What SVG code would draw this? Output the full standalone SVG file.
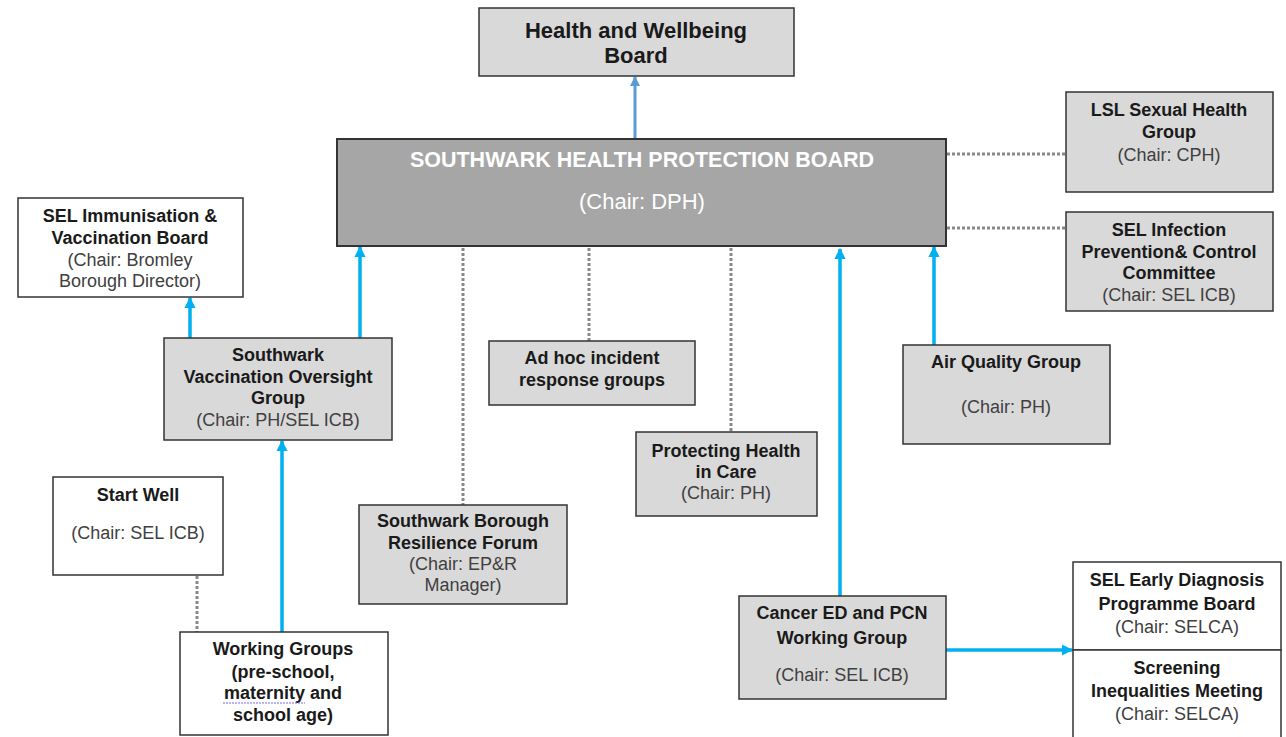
<svg xmlns="http://www.w3.org/2000/svg" width="1286" height="737" viewBox="0 0 1286 737">
<style>
.box{stroke:#333;stroke-width:1.5}
.w{fill:#fff}
.g{fill:#d9d9d9}
.b{font-family:"Liberation Sans",Arial,sans-serif;font-size:18px;font-weight:bold;fill:#1a1a1a;text-anchor:middle}
.n{font-family:"Liberation Sans",Arial,sans-serif;font-size:18px;fill:#404040;text-anchor:middle}
.blue{stroke:#00b0f0;stroke-width:3.5;fill:none}
.dot{stroke:#888;stroke-width:3;stroke-dasharray:3 2;fill:none}
</style>
<defs>
<marker id="ab" viewBox="0 0 10 10" refX="9" refY="5" markerWidth="3.2" markerHeight="3.2" orient="auto" markerUnits="strokeWidth"><path d="M0,0 L10,5 L0,10 z" fill="#00b0f0"/></marker>
<marker id="ab2" viewBox="0 0 10 10" refX="9" refY="5" markerWidth="3.5" markerHeight="3.5" orient="auto" markerUnits="strokeWidth"><path d="M0,0 L10,5 L0,10 z" fill="#5b9bd5"/></marker>
</defs>
<rect width="1286" height="737" fill="#fff"/>

<g id="connectors">
<line x1="635" y1="138" x2="635" y2="77" stroke="#5b9bd5" stroke-width="3" marker-end="url(#ab2)"/>
<line class="dot" x1="947" y1="154" x2="1066" y2="154"/>
<line class="dot" x1="947" y1="228" x2="1066" y2="228"/>
<line class="blue" x1="190" y1="338" x2="190" y2="298" marker-end="url(#ab)"/>
<line class="blue" x1="360" y1="338" x2="360" y2="247" marker-end="url(#ab)"/>
<line class="blue" x1="282" y1="632" x2="282" y2="441" marker-end="url(#ab)"/>
<line class="dot" x1="197" y1="576" x2="197" y2="632"/>
<line class="dot" x1="463" y1="248" x2="463" y2="505"/>
<line class="dot" x1="589" y1="248" x2="589" y2="341"/>
<line class="dot" x1="731" y1="248" x2="731" y2="432"/>
<line class="blue" x1="840" y1="596" x2="840" y2="249" marker-end="url(#ab)"/>
<line class="blue" x1="934" y1="345" x2="934" y2="247" marker-end="url(#ab)"/>
<line class="blue" x1="946" y1="650" x2="1072" y2="650" marker-end="url(#ab)"/>
</g>

<g id="hwb">
<rect class="box g" x="479" y="8" width="315" height="68"/>
<text class="b" style="font-size:22px" x="636" y="38">Health and Wellbeing</text>
<text class="b" style="font-size:22px" x="636" y="63">Board</text>
</g>

<g id="shpb">
<rect x="337" y="139" width="609" height="107" fill="#a6a6a6" stroke="#333" stroke-width="2"/>
<text class="b" style="font-size:21.5px;fill:#fff" x="642" y="167">SOUTHWARK HEALTH PROTECTION BOARD</text>
<text class="n" style="font-size:22px;fill:#fff" x="642" y="209">(Chair: DPH)</text>
</g>

<g id="lsl">
<rect class="box g" x="1066" y="92" width="207" height="100"/>
<text class="b" x="1169" y="116">LSL Sexual Health</text>
<text class="b" x="1169" y="138">Group</text>
<text class="n" x="1169" y="161">(Chair: CPH)</text>
</g>

<g id="ipc">
<rect class="box g" x="1066" y="212" width="207" height="99"/>
<text class="b" x="1169" y="236">SEL Infection</text>
<text class="b" x="1169" y="258">Prevention&amp; Control</text>
<text class="b" x="1169" y="279">Committee</text>
<text class="n" x="1169" y="301">(Chair: SEL ICB)</text>
</g>

<g id="imm">
<rect class="box w" x="18" y="198" width="225" height="99"/>
<text class="b" x="130" y="222">SEL Immunisation &amp;</text>
<text class="b" x="130" y="244">Vaccination Board</text>
<text class="n" x="130" y="266">(Chair: Bromley</text>
<text class="n" x="130" y="287">Borough Director)</text>
</g>

<g id="svog">
<rect class="box g" x="164" y="338" width="228" height="102"/>
<text class="b" x="278" y="361">Southwark</text>
<text class="b" x="278" y="383">Vaccination Oversight</text>
<text class="b" x="278" y="404">Group</text>
<text class="n" x="278" y="426">(Chair: PH/SEL ICB)</text>
</g>

<g id="startwell">
<rect class="box w" x="53" y="477" width="170" height="98"/>
<text class="b" x="138" y="501">Start Well</text>
<text class="n" x="138" y="539">(Chair: SEL ICB)</text>
</g>

<g id="working">
<rect class="box w" x="180" y="632" width="208" height="103"/>
<text class="b" x="283" y="655">Working Groups</text>
<text class="b" x="283" y="678">(pre-school,</text>
<text class="b" x="283" y="699">maternity and</text>
<text class="b" x="283" y="721">school age)</text>
<line x1="223" y1="703" x2="305" y2="703" stroke="#7b68ee" stroke-width="1.2" stroke-dasharray="2 1"/>
</g>

<g id="adhoc">
<rect class="box g" x="489" y="341" width="206" height="64"/>
<text class="b" x="592" y="364">Ad hoc incident</text>
<text class="b" x="592" y="386">response groups</text>
</g>

<g id="resilience">
<rect class="box g" x="359" y="505" width="208" height="99"/>
<text class="b" x="463" y="527">Southwark Borough</text>
<text class="b" x="463" y="549">Resilience Forum</text>
<text class="n" x="463" y="570">(Chair: EP&amp;R</text>
<text class="n" x="463" y="591">Manager)</text>
</g>

<g id="phic">
<rect class="box g" x="636" y="432" width="181" height="84"/>
<text class="b" x="726" y="457">Protecting Health</text>
<text class="b" x="726" y="478">in Care</text>
<text class="n" x="726" y="499">(Chair: PH)</text>
</g>

<g id="airquality">
<rect class="box g" x="903" y="345" width="207" height="99"/>
<text class="b" x="1006" y="368">Air Quality Group</text>
<text class="n" x="1006" y="413">(Chair: PH)</text>
</g>

<g id="cancer">
<rect class="box g" x="739" y="596" width="207" height="103"/>
<text class="b" x="842" y="619">Cancer ED and PCN</text>
<text class="b" x="842" y="644">Working Group</text>
<text class="n" x="842" y="681">(Chair: SEL ICB)</text>
</g>

<g id="earlydiag">
<rect class="box w" x="1073" y="562" width="208" height="88"/>
<text class="b" x="1177" y="586">SEL Early Diagnosis</text>
<text class="b" x="1177" y="610">Programme Board</text>
<text class="n" x="1177" y="633">(Chair: SELCA)</text>
</g>

<g id="screening">
<rect class="box w" x="1073" y="650" width="208" height="92"/>
<text class="b" x="1177" y="674">Screening</text>
<text class="b" x="1177" y="697">Inequalities Meeting</text>
<text class="n" x="1177" y="720">(Chair: SELCA)</text>
</g>
</svg>
